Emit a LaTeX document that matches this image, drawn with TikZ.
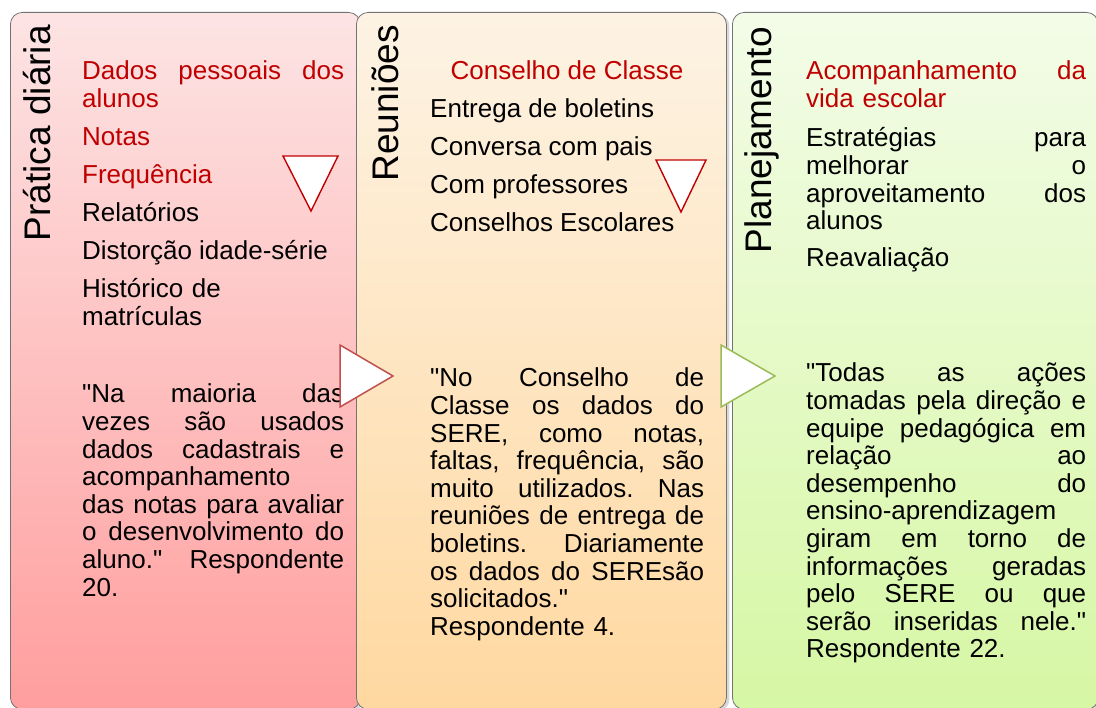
\documentclass[tikz,border=0pt]{standalone}
\usepackage{fontspec}
\setmainfont{Liberation Sans}[Ligatures=TeXOff]
\usetikzlibrary{shadows}
\definecolor{tred}{HTML}{C00000}
\definecolor{arrred}{HTML}{C0504D}
\definecolor{arrgreen}{HTML}{9BBB59}
\newcommand\ja[1]{\leavevmode\hbox to 262pt{#1}}
\newcommand\jb[1]{\leavevmode\hbox to 274pt{#1}}
\newcommand\jc[1]{\leavevmode\hbox to 280pt{#1}}
\newcommand\hs{\hfill}
\begin{document}
\begin{tikzpicture}[x=1pt,y=-1pt,
  panel/.style={rectangle, rounded corners=12pt, draw=black!55, line width=0.8pt,
    minimum height=697pt, inner sep=0pt, anchor=north west,
    drop shadow={shadow xshift=3pt, shadow yshift=-2pt, opacity=0.3}},
  ttl/.style={rotate=90, anchor=base east, inner sep=0pt, font=\fontsize{37}{40}\selectfont},
  item/.style={anchor=base west, inner sep=0pt, align=left, font=\fontsize{26}{27.6}\selectfont},
  reditem/.style={item, text=tred},
  qt/.style={item},
  downtri/.style={draw=tred, fill=white, line width=1.4pt, line join=miter},
  righttri/.style={fill=white, line width=1.5pt, line join=miter}
]
\useasboundingbox (0,0) rectangle (1096,708);
\fill[white] (0,0) rectangle (1096,708);

% panels
\node[panel, minimum width=350pt, top color={rgb,255:red,253;green,228;blue,228}, bottom color={rgb,255:red,255;green,158;blue,158}] (p1) at (10,12) {};
\node[panel, minimum width=370pt, top color={rgb,255:red,253;green,243;blue,228}, bottom color={rgb,255:red,255;green,216;blue,160}] (p2) at (356,12) {};
\node[panel, minimum width=366pt, top color={rgb,255:red,243;green,252;blue,232}, bottom color={rgb,255:red,214;green,247;blue,164}] (p3) at (732,12) {};

% titles
\node[ttl] (t1) at (50,25) {Prática diária};
\node[ttl] (t2) at (398,25) {Reuniões};
\node[ttl] (t3) at (771,27) {Planejamento};

% down triangles
\draw[downtri] (283,156) -- (338,156) -- (311,211) -- cycle;
\draw[downtri] (656,160) -- (706,160) -- (681,212) -- cycle;

% panel 1 items
\node[reditem, text width=262pt] (a1) at (82,80) {\ja{Dados\hs pessoais\hs dos}\\alunos};
\node[reditem] (a2) at (82,146) {Notas};
\node[reditem] (a3) at (82,184) {Frequência};
\node[item] (a4) at (82,222) {Relatórios};
\node[item] (a5) at (82,260) {Distorção idade-série};
\node[item, text width=262pt] (a6) at (82,298) {Histórico de\\matrículas};

% panel 2 items
\node[reditem, anchor=base] (b1) at (567,80) {Conselho de Classe};
\node[item] (b2) at (430,118) {Entrega de boletins};
\node[item] (b3) at (430,156) {Conversa com pais};
\node[item] (b4) at (430,194) {Com professores};
\node[item] (b5) at (430,232) {Conselhos Escolares};

% panel 3 items
\node[reditem, text width=280pt] (c1) at (806,80) {\jc{Acompanhamento\hs da}\\vida escolar};
\node[item, text width=280pt] (c2) at (806,147) {\jc{Estratégias\hs para}\\\jc{melhorar\hs o}\\\jc{aproveitamento\hs dos}\\alunos};
\node[item] (c3) at (806,267) {Reavaliação};

% quotes
\node[qt, text width=262pt] (q1) at (82,403) {\ja{"Na\hs maioria\hs das}\\\ja{vezes\hs são\hs usados}\\\ja{dados\hs cadastrais\hs e}\\acompanhamento\\\ja{das\hs notas\hs para\hs avaliar}\\\ja{o\hs desenvolvimento\hs do}\\\ja{aluno."\hs Respondente}\\20.};
\node[qt, text width=274pt] (q2) at (430,387) {\jb{"No\hs Conselho\hs de}\\\jb{Classe\hs os\hs dados\hs do}\\\jb{SERE,\hs como\hs notas,}\\\jb{faltas,\hs frequência,\hs são}\\\jb{muito\hs utilizados.\hs Nas}\\\jb{reuniões\hs de\hs entrega\hs de}\\\jb{boletins.\hs Diariamente}\\\jb{os\hs dados\hs do\hs SEREsão}\\solicitados."\\Respondente 4.};
\node[qt, text width=280pt] (q3) at (806,382) {\jc{"Todas\hs as\hs ações}\\\jc{tomadas\hs pela\hs direção\hs e}\\\jc{equipe\hs pedagógica\hs em}\\\jc{relação\hs ao}\\\jc{desempenho\hs do}\\ensino-aprendizagem\\\jc{giram\hs em\hs torno\hs de}\\\jc{informações\hs geradas}\\\jc{pelo\hs SERE\hs ou\hs que}\\\jc{serão\hs inseridas\hs nele."}\\Respondente 22.};

% right-pointing triangles
\draw[righttri, draw=arrred] (340,345) -- (393,376) -- (340,407) -- cycle;
\draw[righttri, draw=arrgreen] (721,345) -- (775,376) -- (721,407) -- cycle;
\end{tikzpicture}
\end{document}
